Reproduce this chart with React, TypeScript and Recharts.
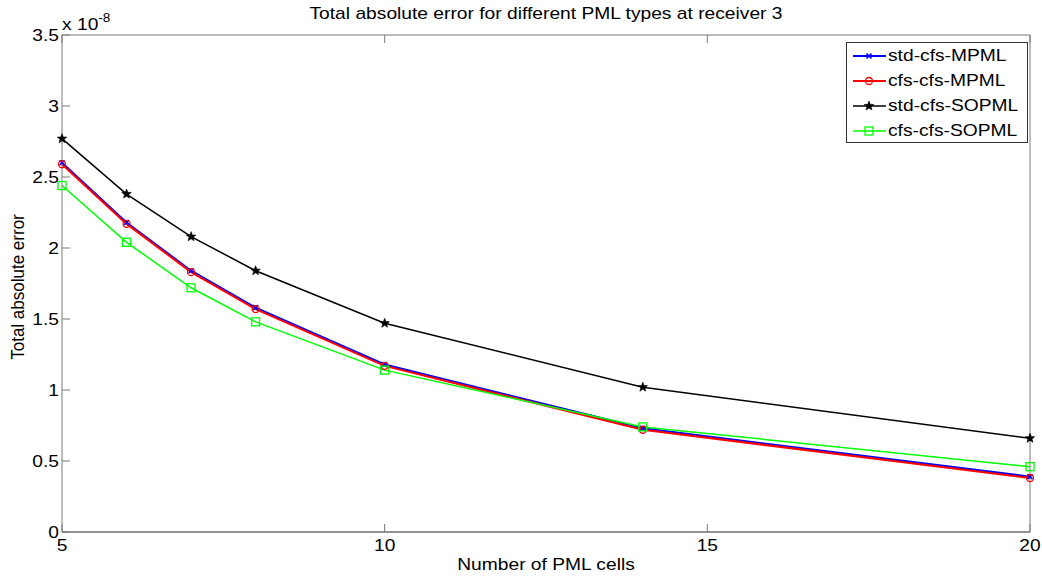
import { LineChart, Line, XAxis, YAxis } from "recharts";

// values in units of 1e-8
const cells = [5, 6, 7, 8, 10, 14, 20];
const stdCfsMpml = [2.6, 2.18, 1.84, 1.58, 1.18, 0.73, 0.39];
const cfsCfsMpml = [2.59, 2.17, 1.83, 1.57, 1.17, 0.72, 0.38];
const stdCfsSopml = [2.77, 2.38, 2.08, 1.84, 1.47, 1.02, 0.66];
const cfsCfsSopml = [2.44, 2.04, 1.72, 1.48, 1.14, 0.74, 0.46];

const xTicks = [5, 10, 15, 20];
const yTicks = [0, 0.5, 1, 1.5, 2, 2.5, 3, 3.5];

const data = cells.map((c, i) => ({
  cells: c,
  stdM: stdCfsMpml[i],
  cfsM: cfsCfsMpml[i],
  stdS: stdCfsSopml[i],
  cfsS: cfsCfsSopml[i],
}));

const FONT = "'Liberation Sans', Arial, sans-serif";
const AXIS = "#7a7a7a";
const SX = 1.13; // the picture's text is a bit stretched sideways

const LeftTick = (props: any) => {
  const { x, y, payload } = props;
  return (
    <g>
      <line x1={x} y1={y} x2={x + 8} y2={y} stroke={AXIS} />
      <text
        transform={`translate(${x - 3},${y + 6}) scale(${SX},1)`}
        textAnchor="end"
        fontSize={17}
        fontFamily={FONT}
        fill="#000"
      >
        {payload.value}
      </text>
    </g>
  );
};

const RightTick = (props: any) => {
  const { x, y } = props;
  return <line x1={x} y1={y} x2={x - 8} y2={y} stroke={AXIS} />;
};

const BottomTick = (props: any) => {
  const { x, y, payload } = props;
  return (
    <g>
      <line x1={x} y1={y} x2={x} y2={y - 8} stroke={AXIS} />
      <text
        transform={`translate(${x},${y + 19}) scale(${SX},1)`}
        textAnchor="middle"
        fontSize={17}
        fontFamily={FONT}
        fill="#000"
      >
        {payload.value}
      </text>
    </g>
  );
};

const TopTick = (props: any) => {
  const { x, y } = props;
  return <line x1={x} y1={y} x2={x} y2={y + 8} stroke={AXIS} />;
};

const CrossDot = (props: any) => {
  const { cx, cy } = props;
  const s = 2.5;
  return (
    <path
      d={`M${cx - s},${cy - s}L${cx + s},${cy + s}M${cx - s},${cy + s}L${cx + s},${cy - s}`}
      stroke="#0000ff"
      strokeWidth={1.5}
    />
  );
};

const CircleDot = (props: any) => {
  const { cx, cy } = props;
  return <circle cx={cx} cy={cy} r={3.5} fill="none" stroke="#ff0000" strokeWidth={1.3} />;
};

const starPath = (cx: number, cy: number, r: number) => {
  let d = "";
  for (let i = 0; i < 10; i++) {
    const rr = i % 2 === 0 ? r : r * 0.42;
    const a = -Math.PI / 2 + (i * Math.PI) / 5;
    d += `${i === 0 ? "M" : "L"}${cx + rr * Math.cos(a)},${cy + rr * Math.sin(a)}`;
  }
  return d + "Z";
};

const StarDot = (props: any) => {
  const { cx, cy } = props;
  return <path d={starPath(cx, cy, 5)} fill="#000" stroke="#000" strokeWidth={0.6} />;
};

const SquareDot = (props: any) => {
  const { cx, cy } = props;
  return (
    <rect x={cx - 4} y={cy - 4} width={8} height={8} fill="none" stroke="#00ff00" strokeWidth={1.3} />
  );
};

const legendItems = [
  { label: "std-cfs-MPML", color: "#0000ff", kind: "x" },
  { label: "cfs-cfs-MPML", color: "#ff0000", kind: "o" },
  { label: "std-cfs-SOPML", color: "#000000", kind: "star" },
  { label: "cfs-cfs-SOPML", color: "#00ff00", kind: "sq" },
];

const LegendIcon = ({ color, kind }: { color: string; kind: string }) => (
  <svg width={34} height={16} style={{ display: "block", flex: "none" }}>
    <line x1={1} y1={8} x2={34} y2={8} stroke={color} strokeWidth={kind === "x" || kind === "o" ? 2 : 1.5} />
    {kind === "x" && <CrossDot cx={17} cy={8} />}
    {kind === "o" && <CircleDot cx={17} cy={8} />}
    {kind === "star" && <StarDot cx={17} cy={8} />}
    {kind === "sq" && <SquareDot cx={17} cy={8} />}
  </svg>
);

const stretch = (origin: string) => ({
  transform: `scaleX(${SX})`,
  transformOrigin: origin,
});

export default function App() {
  return (
    <div
      style={{
        position: "absolute",
        left: 0,
        top: 0,
        width: 1042,
        height: 577,
        background: "#fff",
        fontFamily: FONT,
        overflow: "hidden",
      }}
    >
      <LineChart
        width={1042}
        height={577}
        data={data}
        margin={{ top: 0, right: 0, bottom: 0, left: 0 }}
      >
        <XAxis
          dataKey="cells"
          type="number"
          domain={[5, 20]}
          ticks={xTicks}
          height={45}
          tickSize={0}
          tickMargin={0}
          tickLine={false}
          stroke="#262626"
          tick={<BottomTick />}
          interval={0}
        />
        <XAxis
          xAxisId="top"
          orientation="top"
          dataKey="cells"
          type="number"
          domain={[5, 20]}
          ticks={xTicks}
          height={35}
          tickSize={0}
          tickMargin={0}
          tickLine={false}
          stroke={AXIS}
          tick={<TopTick />}
          interval={0}
        />
        <YAxis
          type="number"
          domain={[0, 3.5]}
          ticks={yTicks}
          width={62}
          tickSize={0}
          tickMargin={0}
          tickLine={false}
          stroke={AXIS}
          tick={<LeftTick />}
          interval={0}
        />
        <YAxis
          yAxisId="right"
          orientation="right"
          type="number"
          domain={[0, 3.5]}
          ticks={yTicks}
          width={12}
          tickSize={0}
          tickMargin={0}
          tickLine={false}
          stroke={AXIS}
          tick={<RightTick />}
          interval={0}
        />
        <Line
          dataKey="stdM"
          stroke="#0000ff"
          strokeWidth={2}
          dot={<CrossDot />}
          isAnimationActive={false}
        />
        <Line
          dataKey="cfsM"
          stroke="#ff0000"
          strokeWidth={2}
          dot={<CircleDot />}
          isAnimationActive={false}
        />
        <Line
          dataKey="stdS"
          stroke="#000000"
          strokeWidth={1.5}
          dot={<StarDot />}
          isAnimationActive={false}
        />
        <Line
          dataKey="cfsS"
          stroke="#00ff00"
          strokeWidth={1.5}
          dot={<SquareDot />}
          isAnimationActive={false}
        />
      </LineChart>

      {/* title and labels */}
      <div
        style={{
          position: "absolute",
          left: 62,
          width: 968,
          top: 4,
          textAlign: "center",
          fontSize: 17,
          ...stretch("center"),
        }}
      >
        Total absolute error for different PML types at receiver 3
      </div>
      <div
        style={{
          position: "absolute",
          left: 62,
          top: 16,
          fontSize: 17,
          lineHeight: "17px",
          whiteSpace: "nowrap",
          ...stretch("left"),
        }}
      >
        x 10
        <span style={{ fontSize: 12, position: "relative", top: -8 }}>-8</span>
      </div>
      <div
        style={{
          position: "absolute",
          left: 18,
          top: 287,
          fontSize: 17,
          whiteSpace: "nowrap",
          transform: `translate(-50%, -50%) rotate(-90deg) scaleY(${SX})`,
        }}
      >
        Total absolute error
      </div>
      <div
        style={{
          position: "absolute",
          left: 62,
          width: 968,
          top: 555,
          textAlign: "center",
          fontSize: 17,
          ...stretch("center"),
        }}
      >
        Number of PML cells
      </div>

      {/* legend */}
      <div
        style={{
          position: "absolute",
          left: 846,
          top: 42,
          width: 182,
          height: 101,
          border: "1px solid #333",
          background: "#fff",
          boxSizing: "border-box",
          padding: "0 0 0 5px",
        }}
      >
        {legendItems.map((it) => (
          <div
            key={it.label}
            style={{ display: "flex", alignItems: "center", height: 25, fontSize: 17 }}
          >
            <LegendIcon color={it.color} kind={it.kind} />
            <span style={{ marginLeft: 2, whiteSpace: "nowrap", ...stretch("left") }}>
              {it.label}
            </span>
          </div>
        ))}
      </div>
    </div>
  );
}
